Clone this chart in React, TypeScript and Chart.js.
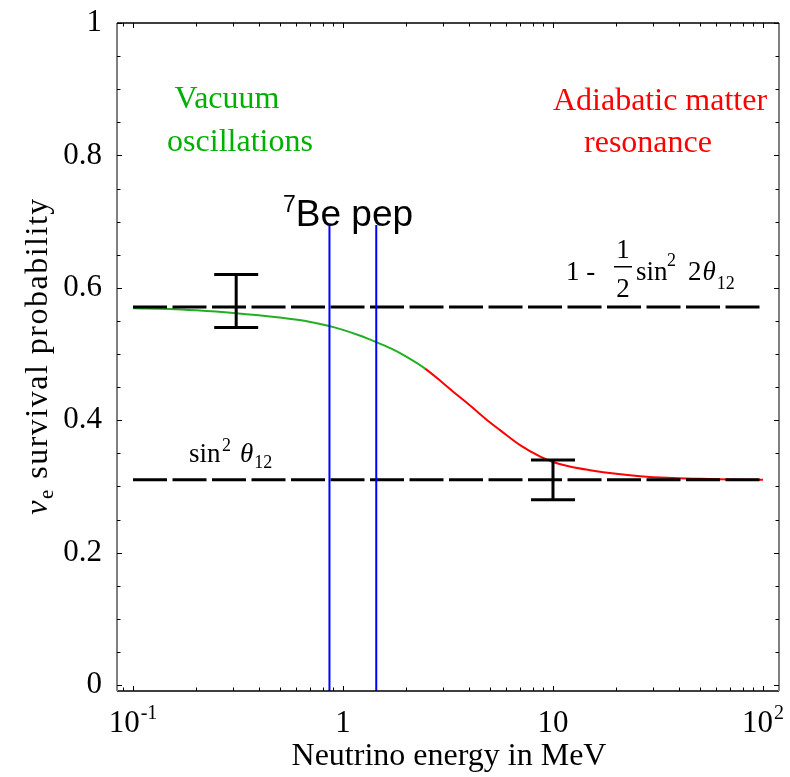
import React, { useEffect, useRef } from 'react';
import { Chart, registerables } from 'chart.js';
Chart.register(...registerables);

// ---- data ----
const greenEnergy = [0.1, 0.15, 0.2, 0.3, 0.5, 0.7, 0.85, 1.0, 1.2, 1.44, 1.7, 2.0, 2.46];
const greenProb = [0.569, 0.568, 0.566, 0.562, 0.555, 0.5485, 0.5428, 0.5365, 0.528, 0.518, 0.508, 0.496, 0.478];
const redEnergy = [3.0, 3.5, 4.0, 5.0, 5.6, 7.0, 8.7, 10, 12, 15, 20, 26, 35, 50, 70, 100];
const redProb = [0.456, 0.438, 0.423, 0.397, 0.385, 0.362, 0.345, 0.337, 0.33, 0.3245, 0.319, 0.3155, 0.313, 0.3115, 0.3105, 0.31];
const colourSplitEnergy = 2.46;
const limitEnergy = [0.1, 100];
const vacuumLimit = 0.571;
const matterLimit = 0.31;
const lineEnergies = [0.862, 1.44];
const lineTop = 0.695;
const errEnergy = [0.31, 10];
const errLow = [0.54, 0.28];
const errHigh = [0.62, 0.34];
const yTicks = [0, 0.2, 0.4, 0.6, 0.8, 1];
const yTickLabels = ['0', '0.2', '0.4', '0.6', '0.8', '1'];
const yMinorTicks = [0.05, 0.1, 0.15, 0.25, 0.3, 0.35, 0.45, 0.5, 0.55, 0.65, 0.7, 0.75, 0.85, 0.9, 0.95];
const xTicks = [0.1, 1, 10, 100];
const xTickBase = ['10', '1', '10', '10'];
const xTickExp = ['-1', '', '', '2'];
const xMinorTicks = [0.09, 0.2, 0.3, 0.4, 0.5, 0.6, 0.7, 0.8, 0.9, 2, 3, 4, 5, 6, 7, 8, 9, 20, 30, 40, 50, 60, 70, 80, 90];
const X_MIN = 0.0839;
const X_MAX = 119.2;
const Y_MIN = -0.009;
const Y_MAX = 1.0;

const SERIF = '"Liberation Serif", "Times New Roman", serif';
const SANS = '"Liberation Sans", Arial, sans-serif';
const GREEN_TEXT = '#00b000';
const GREEN_LINE = '#22b022';
const RED = '#ff0000';
const BLUE = '#0000ff';

const curvePoints = [
  ...greenEnergy.map((x, i) => ({ x, y: greenProb[i] })),
  ...redEnergy.map((x, i) => ({ x, y: redProb[i] })),
];

const errorBarPlugin = {
  id: 'errorBars',
  afterDatasetsDraw(chart: any) {
    const { ctx, scales } = chart;
    const xs = scales.x, ys = scales.y;
    ctx.save();
    ctx.strokeStyle = '#000';
    ctx.lineWidth = 3;
    const half = 22;
    errEnergy.forEach((e, i) => {
      const px = xs.getPixelForValue(e);
      const t = ys.getPixelForValue(errHigh[i]);
      const b = ys.getPixelForValue(errLow[i]);
      ctx.beginPath();
      ctx.moveTo(px, t); ctx.lineTo(px, b);
      ctx.moveTo(px - half, t); ctx.lineTo(px + half, t);
      ctx.moveTo(px - half, b); ctx.lineTo(px + half, b);
      ctx.stroke();
    });
    ctx.restore();
  },
};

const framePlugin = {
  id: 'frame',
  afterDraw(chart: any) {
    const { ctx, chartArea, scales } = chart;
    const { left, right, top, bottom } = chartArea;
    const xs = scales.x, ys = scales.y;
    ctx.save();
    // frame
    ctx.lineWidth = 1.5;
    ctx.strokeStyle = '#000';
    ctx.beginPath();
    ctx.moveTo(left, top); ctx.lineTo(right, top);
    ctx.moveTo(left, bottom); ctx.lineTo(right, bottom);
    ctx.stroke();
    ctx.lineWidth = 2;
    ctx.strokeStyle = '#808080';
    ctx.beginPath();
    ctx.moveTo(left, top); ctx.lineTo(left, bottom);
    ctx.moveTo(right, top); ctx.lineTo(right, bottom);
    ctx.stroke();
    // ticks
    ctx.strokeStyle = '#000';
    ctx.lineWidth = 1;
    const tickY = (v: number, len: number) => {
      const p = Math.round(ys.getPixelForValue(v)) + 0.5;
      ctx.beginPath();
      ctx.moveTo(left, p); ctx.lineTo(left + len, p);
      ctx.moveTo(right, p); ctx.lineTo(right - len, p);
      ctx.stroke();
    };
    const tickX = (v: number, len: number) => {
      const p = Math.round(xs.getPixelForValue(v)) + 0.5;
      ctx.beginPath();
      ctx.moveTo(p, bottom); ctx.lineTo(p, bottom - len);
      ctx.moveTo(p, top); ctx.lineTo(p, top + len);
      ctx.stroke();
    };
    yTicks.forEach((v) => tickY(v, 5));
    yMinorTicks.forEach((v) => tickY(v, 3.5));
    xTicks.forEach((v) => tickX(v, 5));
    xMinorTicks.forEach((v) => tickX(v, 3.5));

    // y tick labels
    ctx.fillStyle = '#000';
    ctx.font = `31px ${SERIF}`;
    ctx.textAlign = 'right';
    ctx.textBaseline = 'middle';
    yTicks.forEach((v, i) => {
      ctx.fillText(yTickLabels[i], left - 15, ys.getPixelForValue(v));
    });
    // x tick labels
    ctx.textBaseline = 'alphabetic';
    ctx.textAlign = 'left';
    xTicks.forEach((v, i) => {
      const px = xs.getPixelForValue(v);
      ctx.font = `31px ${SERIF}`;
      const wb = ctx.measureText(xTickBase[i]).width;
      ctx.font = `20px ${SERIF}`;
      const we = xTickExp[i] ? ctx.measureText(xTickExp[i]).width + 1 : 0;
      const x0 = px - (wb + we) / 2;
      ctx.font = `31px ${SERIF}`;
      ctx.fillText(xTickBase[i], x0, bottom + 41);
      if (xTickExp[i]) {
        ctx.font = `20px ${SERIF}`;
        ctx.fillText(xTickExp[i], x0 + wb + 1, bottom + 28);
      }
    });

    // x title
    ctx.textAlign = 'center';
    ctx.font = `32px ${SERIF}`;
    ctx.fillText('Neutrino energy in MeV', 449, 765);

    // y title (rotated)
    ctx.save();
    ctx.translate(47, 356);
    ctx.rotate(-Math.PI / 2);
    ctx.textAlign = 'left';
    (ctx as any).letterSpacing = '1.5px';
    ctx.font = `italic 32px ${SERIF}`;
    const wNu = ctx.measureText('\u03BD').width;
    ctx.font = `21px ${SERIF}`;
    const wE = ctx.measureText('e').width;
    ctx.font = `32px ${SERIF}`;
    const rest = ' survival probability';
    const wR = ctx.measureText(rest).width;
    const total = wNu + wE + wR;
    let cx = -total / 2;
    ctx.font = `italic 32px ${SERIF}`;
    ctx.fillText('\u03BD', cx, 0);
    cx += wNu;
    ctx.font = `21px ${SERIF}`;
    ctx.fillText('e', cx, 6);
    cx += wE;
    ctx.font = `32px ${SERIF}`;
    ctx.fillText(rest, cx, 0);
    ctx.restore();

    // annotations
    ctx.textAlign = 'center';
    ctx.font = `32px ${SERIF}`;
    ctx.fillStyle = GREEN_TEXT;
    ctx.fillText('Vacuum', 227, 108);
    ctx.fillText('oscillations', 240, 151);
    ctx.fillStyle = RED;
    ctx.fillText('Adiabatic matter', 660, 110);
    ctx.fillText('resonance', 648, 152);

    // 7Be pep
    ctx.fillStyle = '#000';
    ctx.textAlign = 'left';
    ctx.font = `23px ${SANS}`;
    ctx.fillText('7', 283, 212);
    const w7 = ctx.measureText('7').width;
    ctx.font = `37px ${SANS}`;
    ctx.fillText('Be pep', 283 + w7, 226);

    // 1 - 1/2 sin^2 2theta_12
    ctx.font = `27px ${SERIF}`;
    ctx.fillText('1 -', 566, 280);
    ctx.textAlign = 'center';
    ctx.fillText('1', 623, 258);
    ctx.fillText('2', 623, 297);
    ctx.fillRect(614, 266, 18, 1.5);
    ctx.textAlign = 'left';
    ctx.fillText('sin', 636, 280);
    ctx.font = `18px ${SERIF}`;
    ctx.fillText('2', 667, 266);
    ctx.font = `27px ${SERIF}`;
    ctx.fillText('2', 688, 280);
    const w2 = ctx.measureText('2').width;
    ctx.font = `italic 27px ${SERIF}`;
    ctx.fillText('\u03B8', 688 + w2 + 1, 280);
    const wth = ctx.measureText('\u03B8').width;
    ctx.font = `18px ${SERIF}`;
    ctx.fillText('12', 688 + w2 + wth + 2, 289);

    // sin^2 theta_12
    ctx.font = `27px ${SERIF}`;
    ctx.fillText('sin', 189, 462);
    ctx.font = `18px ${SERIF}`;
    ctx.fillText('2', 222, 451);
    ctx.font = `italic 27px ${SERIF}`;
    ctx.fillText('\u03B8', 240, 462);
    const wth2 = ctx.measureText('\u03B8').width;
    ctx.font = `18px ${SERIF}`;
    ctx.fillText('12', 240 + wth2 + 1, 468);

    ctx.restore();
  },
};

export default function App() {
  const ref = useRef<HTMLCanvasElement>(null);
  useEffect(() => {
    const chart = new Chart(ref.current!, {
      type: 'line',
      data: {
        datasets: [
          ...lineEnergies.map((e) => ({
            data: [{ x: e, y: Y_MIN }, { x: e, y: lineTop }],
            borderColor: BLUE,
            borderWidth: 2,
            pointRadius: 0,
            order: 0,
          })),
          {
            data: limitEnergy.map((e) => ({ x: e, y: vacuumLimit })),
            borderColor: '#000',
            borderWidth: 3,
            borderDash: [34, 5.5],
            pointRadius: 0,
            order: 1,
          },
          {
            data: limitEnergy.map((e) => ({ x: e, y: matterLimit })),
            borderColor: '#000',
            borderWidth: 3,
            borderDash: [34, 5.5],
            pointRadius: 0,
            order: 1,
          },
          {
            data: curvePoints,
            borderColor: GREEN_LINE,
            borderWidth: 2,
            pointRadius: 0,
            cubicInterpolationMode: 'monotone',
            segment: {
              borderColor: (c: any) => (c.p0.parsed.x >= colourSplitEnergy ? RED : GREEN_LINE),
            },
            order: 2,
          },
        ] as any,
      },
      options: {
        animation: false,
        responsive: true,
        maintainAspectRatio: false,
        layout: { padding: { left: 117, top: 23, right: 11, bottom: 86 } },
        plugins: { legend: { display: false }, tooltip: { enabled: false } },
        scales: {
          x: { type: 'logarithmic', min: X_MIN, max: X_MAX, display: false },
          y: { type: 'linear', min: Y_MIN, max: Y_MAX, display: false },
        },
      },
      plugins: [errorBarPlugin, framePlugin],
    });
    return () => chart.destroy();
  }, []);
  return (
    <div style={{ position: 'fixed', left: 0, top: 0, width: 790, height: 777, background: '#fff' }}>
      <canvas ref={ref} />
    </div>
  );
}
